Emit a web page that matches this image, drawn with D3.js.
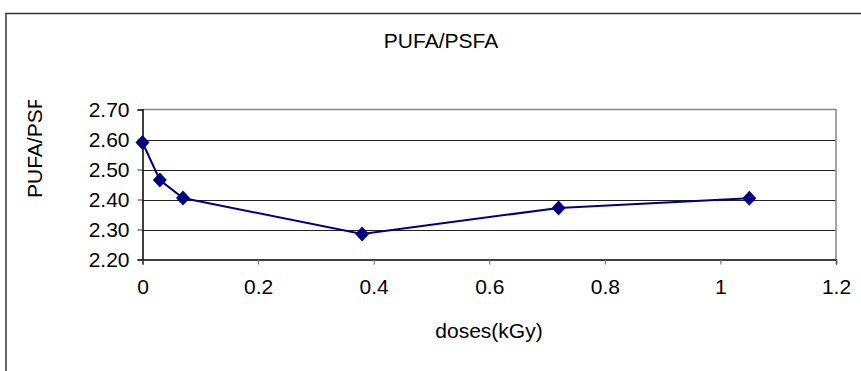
<!doctype html>
<html>
<head>
<script src="https://cdnjs.cloudflare.com/ajax/libs/d3/7.8.5/d3.min.js"></script>
<style>
  body { margin: 0; background: #fff; }
  svg { display: block; font-family: "Liberation Sans", Arial, sans-serif; }
</style>
</head>
<body>
<svg id="chart" width="861" height="371"></svg>
<script>
// doses (kGy) and PUFA/PSFA ratio
var doses = [0, 0.03, 0.07, 0.38, 0.72, 1.05];
var ratio = [2.59, 2.465, 2.405, 2.285, 2.372, 2.404];
var xTicks = [0, 0.2, 0.4, 0.6, 0.8, 1, 1.2];
var yTicks = [2.2, 2.3, 2.4, 2.5, 2.6, 2.7];

var data = doses.map(function(d, i) { return { x: d, y: ratio[i] }; });

var svg = d3.select("#chart");
var plotLeft = 142.5, plotRight = 836, plotTop = 109.5, plotBottom = 259.5;

var x = d3.scaleLinear().domain([0, 1.2]).range([plotLeft, plotRight]);
var y = d3.scaleLinear().domain([2.2, 2.7]).range([plotBottom, plotTop]);

// outer chart frame
svg.append("rect")
  .attr("x", 6).attr("y", 13.5)
  .attr("width", 900).attr("height", 400)
  .attr("fill", "none").attr("stroke", "#333").attr("stroke-width", 1.5);

// title
svg.append("text")
  .attr("x", 441).attr("y", 48)
  .attr("text-anchor", "middle")
  .style("font-size", "21px")
  .text("PUFA/PSFA");

// horizontal gridlines
svg.selectAll("line.grid")
  .data(yTicks.filter(function(t) { return t > 2.2 && t < 2.7; }))
  .enter().append("line")
  .attr("class", "grid")
  .attr("x1", plotLeft).attr("x2", plotRight)
  .attr("y1", d => Math.round(y(d)) + 0.5).attr("y2", d => Math.round(y(d)) + 0.5)
  .attr("stroke", "#222").attr("stroke-width", 1);

// plot area border (top, right)
svg.append("path")
  .attr("d", "M" + plotLeft + "," + plotTop + "H" + plotRight + "V" + plotBottom)
  .attr("fill", "none").attr("stroke", "#888").attr("stroke-width", 1.5);

// y axis
var yAxis = d3.axisLeft(y).tickValues(yTicks).tickSize(5).tickPadding(8)
  .tickFormat(d3.format(".2f"));
var gy = svg.append("g").attr("transform", "translate(" + plotLeft + ",0)").call(yAxis);
gy.select(".domain").attr("stroke", "#000").attr("stroke-width", 1.5);
gy.selectAll(".tick line").attr("stroke", "#333");
gy.selectAll("text").style("font-size", "21px").attr("fill", "#000");

// x axis
var xAxis = d3.axisBottom(x).tickValues(xTicks).tickSize(5).tickPadding(15)
  .tickFormat(d3.format("~g"));
var gx = svg.append("g").attr("transform", "translate(0," + plotBottom + ")").call(xAxis);
gx.select(".domain").attr("stroke", "#000").attr("stroke-width", 1.5);
gx.selectAll(".tick line").attr("stroke", "#666");
gx.selectAll("text").style("font-size", "21px").attr("fill", "#000");

// axis titles
svg.append("text")
  .attr("x", 489).attr("y", 338)
  .attr("text-anchor", "middle")
  .style("font-size", "21px")
  .text("doses(kGy)");

svg.append("clipPath").attr("id", "yclip")
  .append("rect").attr("x", 0).attr("y", 100).attr("width", 60).attr("height", 200);

svg.append("g").attr("clip-path", "url(#yclip)")
  .append("text")
  .attr("transform", "translate(42,198) rotate(-90)")
  .attr("text-anchor", "start")
  .style("font-size", "21px")
  .text("PUFA/PSFA");

// series line and markers
var line = d3.line().x(d => x(d.x)).y(d => y(d.y));
svg.append("path")
  .datum(data)
  .attr("d", line)
  .attr("fill", "none")
  .attr("stroke", "#000080")
  .attr("stroke-width", 2);

svg.selectAll("path.marker")
  .data(data)
  .enter().append("path")
  .attr("class", "marker")
  .attr("transform", d => "translate(" + x(d.x) + "," + y(d.y) + ")")
  .attr("d", "M0,-7.5L7,0L0,7.5L-7,0Z")
  .attr("fill", "#000080");
</script>
</body>
</html>
